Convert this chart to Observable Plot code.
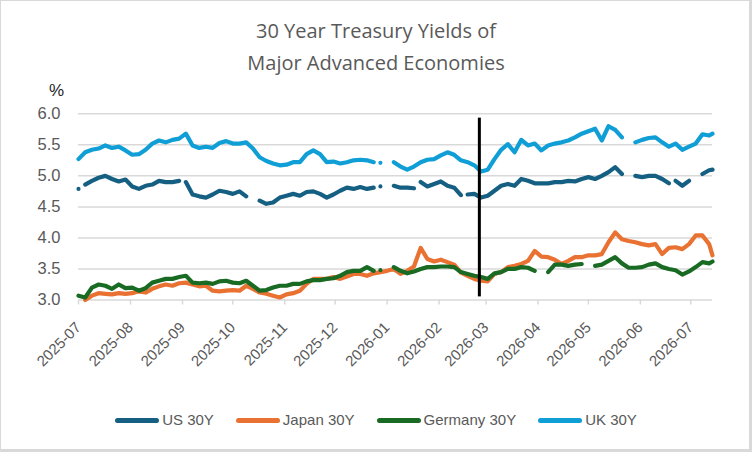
<!DOCTYPE html>
<html>
<head>
<meta charset="utf-8">
<script src="https://cdn.jsdelivr.net/npm/d3@7"></script>
<script src="https://cdn.jsdelivr.net/npm/@observablehq/plot@0.6"></script>
<style>
  html, body { margin: 0; padding: 0; background: #fff; }
  #chart { position: relative; width: 752px; height: 452px; overflow: hidden; background: #fff;
           font-family: "Liberation Sans", Arial, sans-serif; color: #595959; }
  #frame { position: absolute; left: 0; top: 0; width: 752px; height: 452px; box-sizing: border-box;
           border: 1px solid #d9d9d9; border-right-width: 3px; border-bottom-width: 3px; pointer-events: none; }
  #plot { position: absolute; left: 0; top: 0; }
  .title { position: absolute; left: 0; width: 752px; text-align: center; font-family: "Open Sans", sans-serif;
           font-size: 20px; line-height: 20px; color: #595959; white-space: nowrap; }
  #unit { position: absolute; left: 49px; top: 82px; font-size: 17px; line-height: 17px; color: #262626; }
  #legend { position: absolute; left: 0; width: 752px; top: 411px; display: flex; justify-content: center;
            gap: 22px; font-size: 15px; line-height: 18px; color: #595959; }
  .item { display: flex; align-items: center; gap: 3px; }
  .swatch { width: 44px; height: 5px; border-radius: 3px; }
</style>
</head>
<body>
<div id="chart">
  <div class="title" id="t1"></div>
  <div class="title" id="t2"></div>
  <div id="unit">%</div>
  <div id="plot"></div>
  <div id="legend"></div>
  <div id="frame"></div>
</div>
<script>
const titleLines = ["30 Year Treasury Yields of", "Major Advanced Economies"];
const unitLabel = "%";

const series = ["US 30Y", "Japan 30Y", "Germany 30Y", "UK 30Y"];
const colors = ["#156082", "#E97132", "#196B24", "#0F9ED5"];

// Sample dates (every four days) for the yield readings
const dates = [
  "2025-07-01","2025-07-05","2025-07-09","2025-07-13","2025-07-17","2025-07-21","2025-07-25","2025-07-29",
  "2025-08-02","2025-08-06","2025-08-10","2025-08-14","2025-08-18","2025-08-22","2025-08-26","2025-08-30",
  "2025-09-03","2025-09-07","2025-09-11","2025-09-15","2025-09-19","2025-09-23","2025-09-27",
  "2025-10-01","2025-10-05","2025-10-09","2025-10-13","2025-10-17","2025-10-21","2025-10-25","2025-10-29",
  "2025-11-02","2025-11-06","2025-11-10","2025-11-14","2025-11-18","2025-11-22","2025-11-26","2025-11-30",
  "2025-12-04","2025-12-08","2025-12-12","2025-12-16","2025-12-20","2025-12-24","2025-12-28",
  "2026-01-01","2026-01-05","2026-01-09","2026-01-13","2026-01-17","2026-01-21","2026-01-25","2026-01-29",
  "2026-02-02","2026-02-06","2026-02-10","2026-02-14","2026-02-18","2026-02-22","2026-02-26",
  "2026-03-02","2026-03-06","2026-03-10","2026-03-14","2026-03-18","2026-03-22","2026-03-26","2026-03-30",
  "2026-04-03","2026-04-07","2026-04-11","2026-04-15","2026-04-19","2026-04-23","2026-04-27",
  "2026-05-01","2026-05-05","2026-05-09","2026-05-13","2026-05-17","2026-05-21","2026-05-25","2026-05-29",
  "2026-06-02","2026-06-06","2026-06-10","2026-06-14","2026-06-18","2026-06-22","2026-06-26","2026-06-30",
  "2026-07-04","2026-07-08","2026-07-12","2026-07-14"
];

// 30-year yields, % (null = market closed)
const us = [
  4.79,4.86,4.92,4.97,5.00,4.95,4.91,4.94, 4.83,4.79,4.84,4.86,4.92,4.90,4.90,4.92,
  4.90,4.70,4.67,4.65,4.70,4.76,4.74, 4.71,4.75,4.67,null,4.60,4.55,4.57,4.65,
  4.68,4.71,4.68,4.74,4.75,4.71,4.65,4.70, 4.76,4.81,4.79,4.82,4.79,4.81,4.83,
  null,4.84,4.81,4.81,4.80,4.90,4.83,4.87, 4.91,4.84,4.81,4.69,4.70,4.71,4.65,
  4.68,4.76,4.84,4.87,4.84,4.95,4.92,4.88, 4.88,4.88,4.90,4.90,4.92,4.91,4.95,
  4.98,4.95,5.00,5.06,5.14,5.03,null,5.00, 4.98,5.00,5.00,4.95,4.88,4.92,4.84,4.92,
  null,5.03,5.09,5.10
];
const japan = [
  null,3.00,3.07,3.11,3.10,3.09,3.11,3.10, 3.11,3.14,3.12,3.18,3.22,3.25,3.23,3.27,
  3.28,3.25,3.22,3.23,3.15,3.14,3.15, 3.16,3.15,3.23,3.18,3.12,3.10,3.07,3.04,
  3.09,3.11,3.15,3.26,3.34,3.34,3.34,3.37, 3.34,3.38,3.42,3.42,3.39,3.43,3.45,
  3.47,3.50,3.42,3.47,3.54,3.84,3.66,3.62, 3.65,3.61,3.57,3.44,3.39,3.34,3.31,
  3.30,3.42,3.45,3.53,3.55,3.58,3.63,3.79, 3.70,3.69,3.65,3.58,3.63,3.69,3.69,
  3.72,3.72,3.74,3.93,4.09,3.98,3.95,3.93, 3.90,3.88,3.90,3.74,3.84,3.85,3.82,3.90,
  4.04,4.04,3.90,3.72
];
const germany = [
  3.07,3.04,3.20,3.25,3.23,3.18,3.25,3.19, 3.20,3.15,3.19,3.28,3.31,3.34,3.34,3.37,
  3.39,3.28,3.27,3.28,3.26,3.30,3.31, 3.28,3.27,3.31,3.23,3.15,3.16,3.20,3.23,
  3.23,3.26,3.26,3.30,3.32,3.32,3.34,3.35, 3.39,3.45,3.47,3.47,3.53,3.47,3.48,
  null,3.53,3.47,3.43,3.46,3.50,3.53,3.53, 3.54,3.54,3.53,3.45,3.42,3.39,3.37,
  3.34,3.43,3.45,3.50,3.50,3.53,3.52,3.47, null,3.45,3.57,3.57,3.55,3.57,3.58,
  null,3.55,3.57,3.63,3.69,3.59,3.52,3.52, 3.53,3.57,3.59,3.53,3.50,3.48,3.41,3.46,
  3.53,3.61,3.59,3.62
];
const uk = [
  5.27,5.38,5.42,5.44,5.49,5.45,5.47,5.41, 5.34,5.35,5.42,5.52,5.57,5.54,5.58,5.60,
  5.68,5.49,5.45,5.47,5.45,5.53,5.56, 5.52,5.52,5.54,5.44,5.30,5.24,5.20,5.17,
  5.18,5.22,5.22,5.35,5.41,5.35,5.22,5.23, 5.20,5.22,5.25,5.26,5.25,5.22,5.21,
  null,5.22,5.15,5.10,5.15,5.22,5.26,5.27, 5.33,5.38,5.34,5.25,5.22,5.17,5.07,
  5.10,5.27,5.42,5.51,5.38,5.58,5.49,5.52, 5.41,5.49,5.52,5.54,5.57,5.62,5.68,
  5.72,5.76,5.57,5.80,5.74,5.62,null,5.54, 5.58,5.61,5.62,5.54,5.47,5.52,5.42,5.47,
  5.52,5.67,5.65,5.68
];

// Market holidays falling between sample dates
const usClosed = ["2025-07-04","2025-09-01","2025-12-25","2026-01-19","2026-02-16","2026-06-19","2026-07-03"];
const japanClosed = [];
const germanyClosed = ["2025-12-25","2025-12-26","2025-12-31","2026-04-06"];
const ukClosed = ["2025-12-25","2025-12-26"];

const yTicks = [3.0, 3.5, 4.0, 4.5, 5.0, 5.5, 6.0];
const monthTicks = ["2025-07-01","2025-08-01","2025-09-01","2025-10-01","2025-11-01","2025-12-01",
  "2026-01-01","2026-02-01","2026-03-01","2026-04-01","2026-05-01","2026-06-01","2026-07-01"];
const xDomain = ["2025-07-01", "2026-07-14"];
const yDomain = [3, 6];

// Vertical marker line
const markerDate = "2026-02-25";
const markerSpan = [3.05, 5.93];

function rowsFor(name, values, closed) {
  const rows = dates.map((d, i) => ({series: name, date: new Date(d), value: values[i] ?? NaN}));
  for (const c of closed) rows.push({series: name, date: new Date(c), value: NaN});
  return rows.sort((a, b) => a.date - b.date);
}

const rows = [
  ...rowsFor(series[0], us, usClosed),
  ...rowsFor(series[1], japan, japanClosed),
  ...rowsFor(series[2], germany, germanyClosed),
  ...rowsFor(series[3], uk, ukClosed)
];

const chart = Plot.plot({
  width: 752,
  height: 452,
  marginTop: 113.3,
  marginBottom: 152.5,
  marginLeft: 78,
  marginRight: 40,
  style: {background: "transparent", fontFamily: "'Liberation Sans', Arial, sans-serif", color: "#595959"},
  x: {type: "utc", domain: xDomain.map(d => new Date(d))},
  y: {domain: yDomain},
  color: {domain: series, range: colors},
  marks: [
    Plot.gridY(yTicks, {stroke: "#d9d9d9", strokeOpacity: 1, strokeWidth: 1.5}),
    Plot.axisY(yTicks, {tickSize: 0, tickPadding: 18, tickFormat: d3.format(".1f"), fontSize: 16.5, label: null}),
    Plot.axisX(monthTicks.map(d => new Date(d)), {
      tickSize: 5, tickPadding: 20, tickRotate: -45, stroke: "#d9d9d9", strokeWidth: 1.5,
      tickFormat: d3.utcFormat("%Y-%m"), fontSize: 15, label: null
    }),
    Plot.line(rows, {
      x: "date", y: "value", z: "series", stroke: "series",
      strokeWidth: 4.2, strokeLinecap: "round", strokeLinejoin: "round"
    }),
    Plot.ruleX([{date: new Date(markerDate), lo: markerSpan[0], hi: markerSpan[1]}],
      {x: "date", y1: "lo", y2: "hi", stroke: "#000", strokeWidth: 3})
  ]
});
document.getElementById("plot").append(chart);

// Title lines
const t1 = document.getElementById("t1");
const t2 = document.getElementById("t2");
t1.textContent = titleLines[0];
t2.textContent = titleLines[1];
t1.style.top = "21px";
t2.style.top = "53px";
document.getElementById("unit").textContent = unitLabel;

// Legend
const legend = document.getElementById("legend");
series.forEach((name, i) => {
  const item = document.createElement("div");
  item.className = "item";
  const sw = document.createElement("div");
  sw.className = "swatch";
  sw.style.background = colors[i];
  const label = document.createElement("span");
  label.textContent = name;
  item.append(sw, label);
  legend.append(item);
});
</script>
</body>
</html>
